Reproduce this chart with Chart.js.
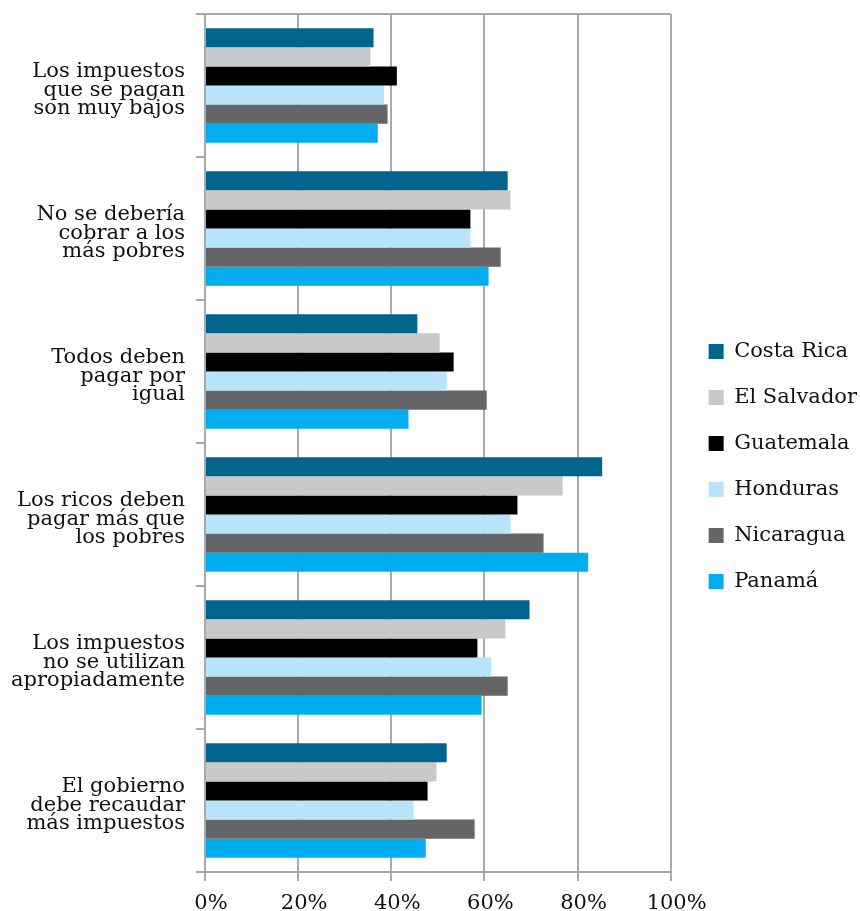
<!DOCTYPE html>
<html>
<head>
<meta charset="utf-8">
<script src="https://cdn.jsdelivr.net/npm/chart.js@4/dist/chart.umd.min.js"></script>
<style>
  html, body { margin: 0; padding: 0; background: #ffffff; }
  #wrap { width: 860px; height: 911px; position: relative; }
</style>
</head>
<body>
<div id="wrap"><canvas id="chart"></canvas></div>
<script>
// Survey statements (each split over three lines)
const statements = [
  ["Los impuestos", "que se pagan", "son muy bajos"],
  ["No se debería", "cobrar a los", "más pobres"],
  ["Todos deben", "pagar por", "igual"],
  ["Los ricos deben", "pagar más que", "los pobres"],
  ["Los impuestos", "no se utilizan", "apropiadamente"],
  ["El gobierno", "debe recaudar", "más impuestos"]
];

const countries = ["Costa Rica", "El Salvador", "Guatemala", "Honduras", "Nicaragua", "Panamá"];

// Share of respondents agreeing (%)
const costaRica  = [36.2, 65.0, 45.6, 85.3, 69.7, 51.9];
const elSalvador = [35.5, 65.6, 50.4, 76.8, 64.5, 49.7];
const guatemala  = [41.2, 57.0, 53.4, 67.1, 58.5, 47.8];
const honduras   = [38.5, 57.0, 51.9, 65.6, 61.5, 44.8];
const nicaragua  = [39.2, 63.5, 60.5, 72.7, 65.0, 57.9];
const panama     = [37.1, 60.9, 43.7, 82.3, 59.4, 47.4];

const axisTicks = [0, 20, 40, 60, 80, 100];

const seriesValues = [costaRica, elSalvador, guatemala, honduras, nicaragua, panama];
const seriesColors = ["#00648C", "#C8C9CB", "#000000", "#B9E5FA", "#646567", "#00AEEF"];

const GRID = "#A7A9AC";
const TEXT = "#111111";
const FONT = "'DejaVu Serif', 'Liberation Serif', serif";

// nudges the legend block into place beside the plot
const legendShift = {
  id: "legendShift",
  afterLayout(chart) {
    const lg = chart.legend;
    if (!lg) return;
    const dx = 13, dy = 4;
    lg.left += dx; lg.right += dx;
    lg.top += dy; lg.bottom += dy;
  }
};

new Chart(document.getElementById("chart"), {
  type: "bar",
  data: {
    labels: statements,
    datasets: countries.map((name, i) => ({
      label: name,
      data: seriesValues[i],
      backgroundColor: seriesColors[i],
      borderWidth: 0,
      categoryPercentage: 0.8,
      barPercentage: 1.0
    }))
  },
  options: {
    indexAxis: "y",
    responsive: true,
    maintainAspectRatio: false,
    animation: false,
    layout: { padding: { top: 14, right: 6, bottom: 0, left: 0 } },
    plugins: {
      tooltip: { enabled: false },
      legend: {
        position: "right",
        labels: {
          boxWidth: 15,
          boxHeight: 15,
          padding: 25,
          color: TEXT,
          font: { family: FONT, size: 21 }
        }
      }
    },
    scales: {
      x: {
        min: 0,
        max: 100,
        afterFit(scale) {
          scale.height = 39;
          scale.paddingLeft = 0;
          scale.paddingRight = 0;
        },
        afterBuildTicks(scale) { scale.ticks = axisTicks.map(v => ({ value: v })); },
        ticks: {
          color: TEXT,
          padding: 10,
          labelOffset: 6,
          font: { family: FONT, size: 21 },
          callback: v => v + "%"
        },
        grid: {
          color: GRID,
          lineWidth: 2,
          tickLength: 9,
          drawTicks: true
        },
        border: { display: true, color: GRID, width: 2 }
      },
      y: {
        afterFit(scale) {
          scale.width = 205;
          scale.paddingTop = 0;
          scale.paddingBottom = 0;
        },
        ticks: {
          color: TEXT,
          padding: 11,
          labelOffset: 5,
          font: { family: FONT, size: 21, lineHeight: 0.88 }
        },
        grid: {
          offset: true,
          color: ctx => (ctx.index === 0 ? GRID : "rgba(0,0,0,0)"),
          tickColor: GRID,
          lineWidth: 2,
          tickLength: 9
        },
        border: { display: true, color: GRID, width: 2 }
      }
    }
  },
  plugins: [legendShift]
});
</script>
</body>
</html>
